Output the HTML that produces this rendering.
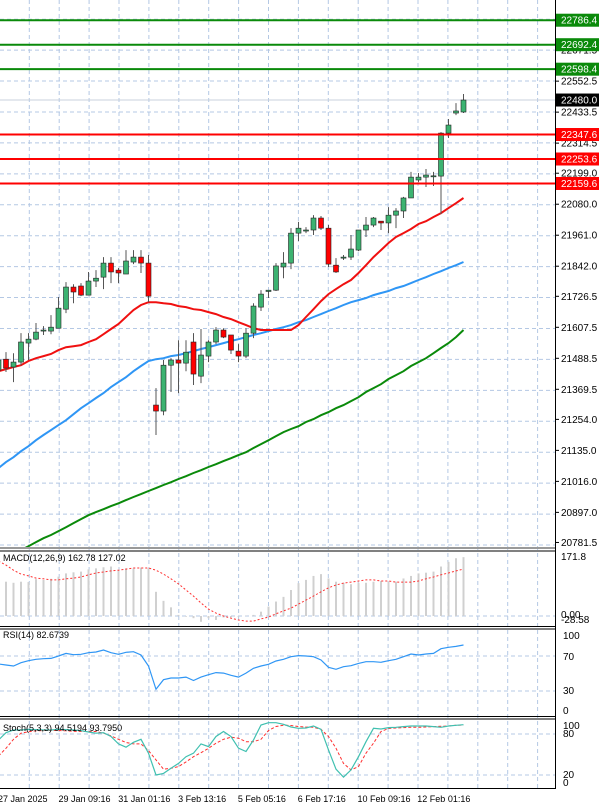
<!DOCTYPE html>
<html><head><meta charset="utf-8"><style>
html,body{margin:0;padding:0;background:#fff;}
svg{display:block;font-family:"Liberation Sans",sans-serif;}
</style></head><body>
<svg id="chart" width="600" height="809" viewBox="0 0 600 809" xmlns="http://www.w3.org/2000/svg">
<defs>
<clipPath id="cMain"><rect x="0" y="0" width="555" height="547"/></clipPath>
<clipPath id="cMacd"><rect x="0" y="551" width="555" height="75"/></clipPath>
<clipPath id="cRsi"><rect x="0" y="629" width="555" height="87"/></clipPath>
<clipPath id="cSto"><rect x="0" y="719" width="555" height="69"/></clipPath>
</defs>
<g id="grid"></g>
<g id="main" clip-path="url(#cMain)"></g>
<g id="macd" clip-path="url(#cMacd)"></g>
<g id="rsi" clip-path="url(#cRsi)"></g>
<g id="sto" clip-path="url(#cSto)"></g>
<g id="frame"></g>
<g id="axis"></g>
<g id="dates"></g>
</svg>
<script>
const opens=[21443,21485,21455,21474,21547,21562,21593,21593,21604,21677,21762,21766,21731,21785,21800,21854,21827,21812,21858,21877,21854,21309,21286,21462,21482,21470,21551,21420,21497,21551,21597,21578,21516,21497,21585,21685,21745,21750,21839,21854,21969,21977,21981,22027,21988,21846,21873,21877,21904,21981,22000,22015,22008,22038,22054,22104,22173,22184,22188,22188,22353,22430,22434];
const highs=[21501,21512,21508,21585,21585,21624,21612,21654,21724,21781,21773,21777,21820,21827,21877,21877,21835,21904,21904,21904,21885,21374,21482,21489,21558,21558,21585,21601,21558,21608,21604,21578,21543,21604,21700,21750,21750,21854,21896,21988,22012,21992,22038,22035,22000,21873,21885,21962,21981,22031,22031,22015,22069,22065,22108,22204,22200,22215,22204,22357,22407,22468,22503];
const lows=[21424,21436,21397,21462,21482,21558,21578,21581,21604,21662,21700,21727,21731,21762,21754,21777,21777,21812,21850,21816,21704,21194,21270,21359,21355,21439,21386,21393,21474,21543,21566,21505,21474,21489,21566,21670,21720,21747,21796,21831,21939,21969,21962,21981,21839,21816,21866,21866,21900,21954,21992,21981,21969,21988,22027,22104,22165,22146,22150,22042,22334,22422,22430];
const closes=[21482,21451,21474,21551,21562,21589,21597,21608,21681,21762,21743,21731,21785,21796,21854,21820,21816,21862,21877,21854,21727,21286,21462,21482,21470,21512,21428,21501,21551,21597,21570,21520,21497,21585,21689,21735,21750,21843,21854,21969,21988,21981,22027,21988,21850,21820,21877,21908,21981,22000,22027,22008,22038,22054,22104,22184,22184,22192,22189,22353,22384,22438,22480];
const maFast=[21439,21447,21455,21462,21478,21489,21497,21505,21520,21531,21535,21539,21551,21562,21581,21601,21620,21647,21674,21693,21704,21704,21700,21697,21689,21685,21677,21674,21666,21658,21647,21639,21627,21616,21604,21597,21597,21597,21597,21597,21616,21647,21677,21708,21735,21754,21773,21789,21816,21846,21877,21904,21931,21954,21969,21985,22004,22015,22031,22046,22065,22084,22104];
const maMid=[21067,21090,21109,21132,21151,21174,21194,21213,21232,21251,21274,21297,21316,21336,21355,21378,21397,21416,21439,21459,21478,21485,21489,21497,21501,21508,21516,21524,21531,21539,21547,21555,21562,21570,21578,21585,21593,21601,21608,21616,21627,21635,21647,21658,21670,21681,21693,21704,21712,21720,21731,21739,21747,21758,21766,21777,21789,21800,21812,21823,21835,21846,21858];
const maSlow=[20706,20721,20737,20752,20767,20783,20798,20810,20825,20840,20856,20871,20886,20898,20909,20921,20932,20944,20956,20967,20979,20990,21002,21013,21025,21036,21048,21059,21071,21082,21094,21105,21117,21128,21144,21159,21174,21190,21205,21217,21228,21244,21255,21270,21282,21297,21309,21324,21339,21359,21374,21389,21409,21424,21439,21459,21474,21489,21508,21528,21547,21570,21597];
const macdHist=[95,95,92,95,94,102,100,103,109,118,121,123,129,132,135,137,127,132,132,134,132,67,42,24,3,-2,-6,-16,-6,-11,-4,-4,-2,1,3,12,26,40,53,72,91,100,111,116,104,95,92,88,92,92,95,97,95,95,104,111,118,120,123,137,150,160,163];
const macdSignal=[152,141,127,116,111,105,103,100,100,103,105,108,114,119,122,125,127,130,133,133,133,127,116,103,89,72,55,36,19,8,0,-6,-11,-14,-14,-8,-3,6,14,22,33,44,55,67,78,86,91,94,97,100,100,97,97,94,94,94,97,103,108,114,119,125,130];
const rsiVals=[60.9,59.7,58.6,62.3,64.6,66.2,66.9,67.3,70,73,71.5,72,73.8,74.6,76.9,73.8,72,74.2,74.9,71.1,58.6,31.9,42.9,44.8,44.8,45.9,42,45.9,48.6,51,50.4,48,45.9,50.4,56,58.6,60.5,64.3,66.2,69.2,70.4,70,69.2,65.4,57.1,54.8,57.8,58.9,61.6,63.5,63.5,62.8,64.6,66.2,69.2,72.3,71.1,72.3,73,78.3,79.9,81,82.6];
const stochMain=[71.3,82,86,86,87,86.5,86,86,87,86.5,86,85,83,81.3,82,76.4,65.6,60.8,68,72.4,52,20,22.4,29.8,37,46.8,52,65.6,61.6,76.4,83.8,76.4,59.3,54.4,71.3,93.3,96.7,96.7,94.3,90.4,88.4,88.9,91.8,87,56.8,28.5,16.8,27.5,46.8,68.8,88.4,87.4,89.4,89.9,90.9,91.8,91.8,91.8,90.9,89.9,91.8,92.8,93.7];
const stochSignal=[47.9,59.2,72.4,81.3,83.3,84.7,85.2,85.2,85.2,84.7,84.2,83.8,83.8,83.8,81.3,77.4,72.4,67.6,65.6,65.6,55.8,42.1,28.5,29.8,32.3,39.2,46.8,52.7,59.2,66.6,72.4,75.4,73.9,68.8,68.8,72.4,85.2,91,93,92.5,91,90.4,89.9,87,76.4,59.3,37,27.5,32.3,52,66.6,83.8,88.2,88.9,89.4,89.9,89.9,90.4,90.9,91.3,91.8,92.8,93.3];
const priceTicks=[22671.5,22552.5,22433.5,22314.5,22199.0,22080.0,21961.0,21842.0,21726.5,21607.5,21488.5,21369.5,21254.0,21135.0,21016.0,20897.0,20781.5];
const resistLevels=[22786.4,22692.4,22598.4];
const supportLevels=[22347.6,22253.6,22159.6];
const lastPrice=22480.0;
const dateLabels=["27 Jan 2025","29 Jan 09:16","31 Jan 01:16","3 Feb 13:16","5 Feb 05:16","6 Feb 17:16","10 Feb 09:16","12 Feb 01:16"];

const NS="http://www.w3.org/2000/svg";
const xOf=k=>-1.5+7.5*k;
const yP=p=>(22864-p)/3.839;
const yM=v=>616-v*0.361;
const yR=v=>656-(v-70)*0.875;
const yS=v=>788.7-v*0.683;
function mk(parent,tag,attrs,text){const e=document.createElementNS(NS,tag);for(const k in attrs)e.setAttribute(k,attrs[k]);if(text!==undefined)e.textContent=text;document.getElementById(parent).appendChild(e);return e;}
const GRID="#b4c8e4";

for(let i=0;i<19;i++){const x=29.3+29.9*i;if(x>553)break;
 const l=mk('grid','line',{x1:x,x2:x,y1:0,y2:788,stroke:GRID,'stroke-dasharray':'4,3','stroke-width':1});
 
 }
for(let i=0;i<18;i++){const y=545-30.93*i;
 const l=mk('grid','line',{x1:0,x2:555,y1:y,y2:y,stroke:GRID,'stroke-dasharray':'4,3','stroke-width':1});
 
 }
[616,656,691,734,775].forEach(y=>{const l=mk('grid','line',{x1:0,x2:555,y1:y,y2:y,stroke:GRID,'stroke-dasharray':'4,3','stroke-width':1});
 
 });

{const l=mk('main','line',{x1:0,x2:555,y1:yP(lastPrice),y2:yP(lastPrice),stroke:'#c8d0dc','stroke-width':1});

}

function poly(parent,arr,fy,color,w,dash,name){
 const pts=arr.map((v,k)=>xOf(k).toFixed(1)+','+fy(v).toFixed(1)).join(' ');
 const p=mk(parent,'polyline',{points:pts,fill:'none',stroke:color,'stroke-width':w});
 if(dash)p.setAttribute('stroke-dasharray',dash);
 
 
}
poly('main',maSlow,yP,'#0a8a0a',2,null,'ma-slow-line');
poly('main',maMid,yP,'#2f96f5',2,null,'ma-mid-line');
poly('main',maFast,yP,'#f01010',2,null,'ma-fast-line');

for(let k=0;k<opens.length;k++){
 const x=xOf(k),o=opens[k],c=closes[k],up=c>=o;
 const w=mk('main','line',{x1:x,x2:x,y1:yP(highs[k]),y2:yP(lows[k]),stroke:'#555','stroke-width':1});
 
 
 const top=yP(Math.max(o,c)),bot=yP(Math.min(o,c));
 const b=mk('main','rect',{x:x-2.5,y:top,width:5,height:Math.max(bot-top,1),fill:up?'#3cb371':'#ff0000',stroke:'#222','stroke-width':0.6});
 
 
}

resistLevels.forEach(p=>{const l=mk('main','line',{x1:0,x2:555,y1:yP(p),y2:yP(p),stroke:'#0a8a0a','stroke-width':2});
 
 });
supportLevels.forEach(p=>{const l=mk('main','line',{x1:0,x2:555,y1:yP(p),y2:yP(p),stroke:'#ff0000','stroke-width':2});
 
 });

macdHist.forEach((v,k)=>{const x=xOf(k);const r=mk('macd','rect',{x:x-1,y:Math.min(yM(v),yM(0)),width:2,height:Math.abs(yM(v)-yM(0))||0.5,fill:'#d0d0d0'});
 
 });
poly('macd',macdSignal,yM,'#ff3030',1,'2,2','macd-signal-line');
poly('rsi',rsiVals,yR,'#2f96f5',1.2,null,'rsi-line');
poly('sto',stochSignal,yS,'#ff3030',1,'3,2','stoch-signal-line');
poly('sto',stochMain,yS,'#40c0b0',1.2,null,'stoch-main-line');

[[0,548,555,548,'#999',2],[0,551,555,551,'#000',1],[0,626.5,555,626.5,'#000',1],[0,629,555,629,'#000',1],[0,716.5,555,716.5,'#000',1],[0,719,555,719,'#000',1],[0,788.5,555,788.5,'#000',1],[555.5,0,555.5,789,'#000',1]].forEach(a=>{
 const l=mk('frame','line',{x1:a[0],y1:a[1],x2:a[2],y2:a[3],stroke:a[4],'stroke-width':a[5]});
 
 });

function t(parent,x,y,s,attrs,name){const e=mk(parent,'text',Object.assign({x:x,y:y,'font-size':10,fill:'#000'},attrs||{}),s);
 
 return e;}
priceTicks.forEach(p=>{const y=yP(p);const tk=mk('axis','line',{x1:555,x2:559,y1:y,y2:y,stroke:'#000'});
 
 
 t('axis',561,y+3.5,p.toFixed(1),{},'price-tick-label');});
function box(p,fill,name){const y=yP(p);const r=mk('axis','rect',{x:556,y:y-6.5,width:43,height:13,fill:fill});
 
 
 t('axis',561,y+3.5,p.toFixed(1),{fill:'#fff'},name+'-label');}
resistLevels.forEach(p=>box(p,'#0a8a0a','resistance'));
supportLevels.forEach(p=>box(p,'#ff0000','support'));
box(lastPrice,'#000','last-price');

t('axis',561,560,'171.8',{},'macd-max-label');
t('axis',561,618,'0.00',{},'macd-zero-label');
t('axis',561,623,'-28.58',{},'macd-min-label');
t('axis',563,639,'100',{},'rsi-100-label');
t('axis',563,660,'70',{},'rsi-70-label');
t('axis',563,694,'30',{},'rsi-30-label');
t('axis',563,714,'0',{},'rsi-0-label');
t('axis',563,729,'100',{},'stoch-100-label');
t('axis',563,737,'80',{},'stoch-80-label');
t('axis',563,778,'20',{},'stoch-20-label');
t('axis',563,786,'0',{},'stoch-0-label');

t('frame',3,561,'MACD(12,26,9) 162.78 127.02',{'font-size':9},'macd-title');
t('frame',3,638,'RSI(14) 82.6739',{'font-size':9},'rsi-title');
t('frame',3,731,'Stoch(5,3,3) 94.5194 93.7950',{'font-size':9},'stoch-title');

dateLabels.forEach((s,i)=>{const x=i===0?-2:58.5+59.8*(i-1);
 t('dates',x,802,s,{'font-size':9},'date-label');});
</script>
</body></html>
